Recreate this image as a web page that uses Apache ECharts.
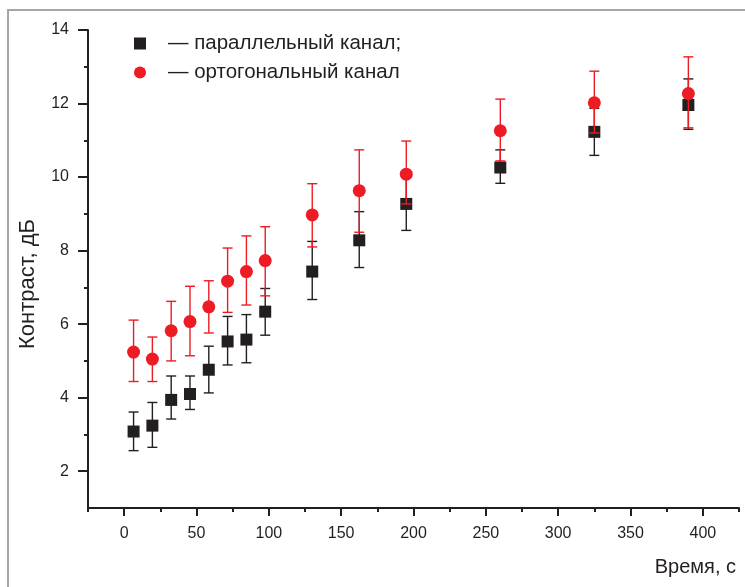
<!DOCTYPE html>
<html>
<head>
<meta charset="utf-8">
<script src="https://cdn.jsdelivr.net/npm/echarts@6/dist/echarts.min.js"></script>
<style>
  html, body { margin: 0; padding: 0; background: #fff; }
  #chart { width: 745px; height: 587px; }
</style>
</head>
<body>
<div id="chart"></div>
<script>
// время, с
const times = [6.5, 19.5, 32.5, 45.5, 58.5, 71.5, 84.5, 97.5, 130, 162.5, 195, 260, 325, 390];

// параллельный канал
const parMean = [3.08, 3.24, 3.94, 4.10, 4.76, 5.53, 5.58, 6.34, 7.43, 8.28, 9.27, 10.26, 11.23, 11.96];
const parHigh = [3.61, 3.87, 4.59, 4.59, 5.40, 6.21, 6.26, 6.97, 8.25, 9.06, 9.99, 10.74, 11.87, 12.67];
const parLow  = [2.56, 2.65, 3.42, 3.68, 4.13, 4.89, 4.95, 5.70, 6.67, 7.54, 8.55, 9.83, 10.59, 11.30];

// ортогональный канал
const ortMean = [5.24, 5.05, 5.82, 6.07, 6.47, 7.17, 7.43, 7.73, 8.97, 9.63, 10.08, 11.26, 12.02, 12.27];
const ortHigh = [6.11, 5.65, 6.62, 7.03, 7.18, 8.07, 8.40, 8.65, 9.82, 10.74, 10.98, 12.12, 12.88, 13.27];
const ortLow  = [4.44, 4.44, 5.00, 5.14, 5.76, 6.32, 6.52, 6.77, 8.10, 8.50, 9.27, 10.44, 11.20, 11.34];

// ticks
const xMajor = [0, 50, 100, 150, 200, 250, 300, 350, 400];
const xMinor = [-25, 25, 75, 125, 175, 225, 275, 325, 375, 425];
const yMajor = [2, 4, 6, 8, 10, 12, 14];
const yMinor = [3, 5, 7, 9, 11, 13];

const names = ['параллельный канал;', 'ортогональный канал'];
const ink = '#231f20';
const red = '#ed1c24';
const font = 'Liberation Sans, Arial, sans-serif';

function errBars(lo, hi, color, z) {
  return {
    type: 'custom',
    z: z,
    silent: true,
    data: times.map((t, i) => [t, lo[i], hi[i]]),
    encode: {x: 0, y: [1, 2]},
    renderItem: function (params, api) {
      const a = api.coord([api.value(0), api.value(1)]);
      const b = api.coord([api.value(0), api.value(2)]);
      const w = 5;
      const style = {stroke: color, lineWidth: 1.4};
      return {
        type: 'group',
        children: [
          {type: 'line', shape: {x1: a[0], y1: a[1], x2: b[0], y2: b[1]}, style: style},
          {type: 'line', shape: {x1: a[0] - w, y1: a[1], x2: a[0] + w, y2: a[1]}, style: style},
          {type: 'line', shape: {x1: b[0] - w, y1: b[1], x2: b[0] + w, y2: b[1]}, style: style}
        ]
      };
    }
  };
}

const myChart = echarts.init(document.getElementById('chart'));
const option = {
  animation: false,
  textStyle: {fontFamily: font},
  grid: {left: 88, right: 6, top: 30, bottom: 79},
  legend: {
    orient: 'vertical',
    left: 129,
    top: 28,
    itemWidth: 12,
    itemHeight: 12,
    itemGap: 8,
    data: [
      {name: names[0], icon: 'rect', itemStyle: {color: ink}},
      {name: names[1], icon: 'circle', itemStyle: {color: red}}
    ],
    formatter: function (name) {
      return '{g|}— ' + name;
    },
    textStyle: {
      fontSize: 20.5,
      color: ink,
      fontFamily: font,
      rich: {g: {width: 17}}
    }
  },
  xAxis: [
    {
      type: 'value',
      min: -25,
      max: 425,
      splitLine: {show: false},
      axisLine: {onZero: false, lineStyle: {color: ink, width: 2}},
      axisTick: {customValues: xMajor, length: 8, lineStyle: {color: ink, width: 2}},
      axisLabel: {customValues: xMajor, margin: 18, fontSize: 16, color: ink, fontFamily: font}
    },
    {
      type: 'value',
      min: -25,
      max: 425,
      position: 'bottom',
      splitLine: {show: false},
      axisLine: {show: false, onZero: false},
      axisTick: {customValues: xMinor, length: 4, lineStyle: {color: ink, width: 2}},
      axisLabel: {show: false}
    }
  ],
  yAxis: [
    {
      type: 'value',
      min: 1,
      max: 14,
      splitLine: {show: false},
      axisLine: {show: true, onZero: false, lineStyle: {color: ink, width: 2}},
      axisTick: {show: true, customValues: yMajor, length: 10, lineStyle: {color: ink, width: 2}},
      axisLabel: {customValues: yMajor, margin: 19, fontSize: 16, color: ink, fontFamily: font}
    },
    {
      type: 'value',
      min: 1,
      max: 14,
      position: 'left',
      splitLine: {show: false},
      axisLine: {show: false, onZero: false},
      axisTick: {show: true, customValues: yMinor, length: 4, lineStyle: {color: ink, width: 2}},
      axisLabel: {show: false}
    }
  ],
  graphic: [
    {
      type: 'rect',
      shape: {x: 8, y: 10, width: 800, height: 640},
      style: {fill: 'none', stroke: '#a6a6a6', lineWidth: 2},
      silent: true
    },
    {
      type: 'text',
      x: 736,
      y: 567,
      style: {text: 'Время, с', font: '20px ' + font, fill: ink, align: 'right', verticalAlign: 'middle'}
    },
    {
      type: 'text',
      x: 28,
      y: 284,
      rotation: Math.PI / 2,
      style: {text: 'Контраст, дБ', font: '22px ' + font, fill: ink, align: 'center', verticalAlign: 'middle'}
    }
  ],
  series: [
    errBars(parLow, parHigh, ink, 1),
    {
      name: names[0],
      type: 'scatter',
      z: 2,
      symbol: 'rect',
      symbolSize: 12,
      itemStyle: {color: ink, opacity: 1},
      data: times.map((t, i) => [t, parMean[i]])
    },
    errBars(ortLow, ortHigh, red, 3),
    {
      name: names[1],
      type: 'scatter',
      z: 4,
      symbol: 'circle',
      symbolSize: 13,
      itemStyle: {color: red, opacity: 1},
      data: times.map((t, i) => [t, ortMean[i]])
    }
  ]
};

myChart.setOption(option);
window.addEventListener('resize', function () {
  myChart.resize();
});
</script>
</body>
</html>
